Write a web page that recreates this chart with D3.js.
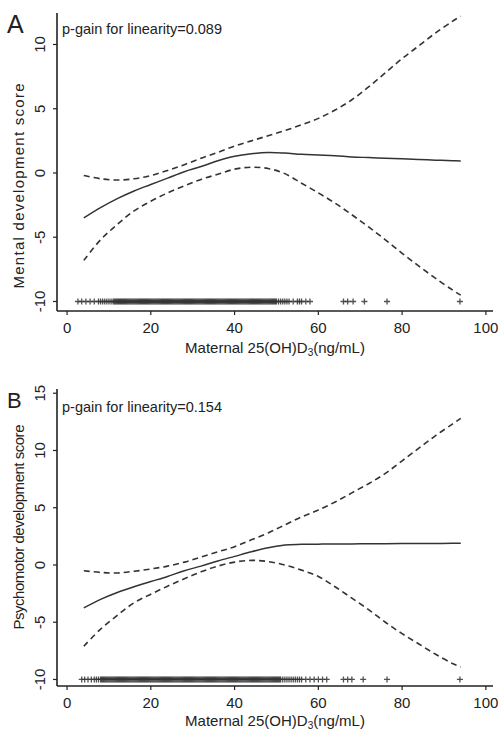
<!DOCTYPE html>
<html lang="en">
<head>
<meta charset="utf-8">
<title>Maternal 25(OH)D3 and development scores</title>
<script src="https://d3js.org/d3.v7.min.js"></script>
<style>
    body { margin: 0; background: #fff; }
    text { font-family: "Liberation Sans", Arial, sans-serif; fill: #222; }
</style>
</head>
<body>
<div id="chart"></div>
<script>
// x grid shared by all fitted curves
const xGrid = [4, 8, 12, 16, 20, 24, 28, 32, 36, 40, 44, 48, 52, 56, 60, 64, 68, 72, 76, 80, 84, 88, 92, 94];

// panel A: mental development score
const fitA   = [-3.5, -2.7, -2.0, -1.4, -0.9, -0.4, 0.1, 0.5, 0.95, 1.3, 1.5, 1.6, 1.55, 1.45, 1.4, 1.35, 1.25, 1.2, 1.15, 1.1, 1.05, 1.0, 0.95, 0.93];
const upperA = [-0.2, -0.45, -0.55, -0.45, -0.2, 0.2, 0.65, 1.15, 1.6, 2.1, 2.5, 2.9, 3.3, 3.75, 4.25, 4.9, 5.7, 6.7, 7.8, 8.9, 9.9, 10.9, 11.8, 12.2];
const lowerA = [-6.8, -5.2, -4.0, -2.95, -2.2, -1.55, -1.0, -0.5, -0.1, 0.3, 0.45, 0.35, -0.05, -0.8, -1.55, -2.35, -3.25, -4.2, -5.2, -6.25, -7.25, -8.2, -9.1, -9.5];
const rugA = [2.6, 3.5, 4.5, 5.5, 6.5, 7.5, 8, 8.5, 9, 9.5, 10, 10.5,
    11, 11.25, 11.5, 11.75, 12, 12.25, 12.5, 12.75, 13, 13.25, 13.5, 13.75, 14, 14.25, 14.5, 14.75,
    15, 15.25, 15.5, 15.75, 16, 16.25, 16.5, 16.75, 17, 17.25, 17.5, 17.75, 18, 18.25, 18.5, 18.75,
    19, 19.25, 19.5, 19.75, 20, 20.25, 20.5, 20.75, 21, 21.25, 21.5, 21.75, 22, 22.25, 22.5, 22.75,
    23, 23.25, 23.5, 23.75, 24, 24.25, 24.5, 24.75, 25, 25.25, 25.5, 25.75, 26, 26.25, 26.5, 26.75,
    27, 27.25, 27.5, 27.75, 28, 28.25, 28.5, 28.75, 29, 29.25, 29.5, 29.75, 30, 30.25, 30.5, 30.75,
    31, 31.25, 31.5, 31.75, 32, 32.25, 32.5, 32.75, 33, 33.25, 33.5, 33.75, 34, 34.25, 34.5, 34.75,
    35, 35.25, 35.5, 35.75, 36, 36.25, 36.5, 36.75, 37, 37.25, 37.5, 37.75, 38, 38.25, 38.5, 38.75,
    39, 39.25, 39.5, 39.75, 40, 40.25, 40.5, 40.75, 41, 41.25, 41.5, 41.75, 42, 42.25, 42.5, 42.75,
    43, 43.25, 43.5, 43.75, 44, 44.25, 44.5, 44.75, 45, 45.25, 45.5, 45.75, 46, 46.25, 46.5, 46.75,
    47, 47.25, 47.5, 47.75, 48, 48.25, 48.5, 48.75, 49, 49.25, 49.5, 49.75, 50,
    50.5, 51, 51.5, 52, 52.5, 53, 54, 55, 55.5, 56, 57, 58, 66, 67, 68.3, 71, 76.4, 93.8];

// panel B: psychomotor development score
const fitB   = [-3.75, -3.0, -2.4, -1.9, -1.45, -1.0, -0.5, -0.1, 0.35, 0.75, 1.15, 1.5, 1.75, 1.8, 1.82, 1.83, 1.84, 1.85, 1.86, 1.87, 1.88, 1.88, 1.89, 1.9];
const upperB = [-0.5, -0.65, -0.7, -0.55, -0.35, -0.1, 0.25, 0.7, 1.15, 1.6, 2.2, 2.8, 3.5, 4.2, 4.8, 5.5, 6.3, 7.1, 8.0, 9.1, 10.2, 11.3, 12.3, 12.8];
const lowerB = [-7.1, -5.6, -4.4, -3.3, -2.55, -1.85, -1.2, -0.6, -0.1, 0.25, 0.4, 0.3, 0.0, -0.45, -1.0, -1.9, -2.9, -3.9, -5.0, -6.0, -6.9, -7.8, -8.6, -8.9];
const rugB = [3.5, 4.2, 5, 5.8, 6.5,
    7, 7.5, 8, 8.25, 8.5, 8.75, 9, 9.25, 9.5, 9.75, 10, 10.25, 10.5, 10.75,
    11, 11.25, 11.5, 11.75, 12, 12.25, 12.5, 12.75, 13, 13.25, 13.5, 13.75, 14, 14.25, 14.5, 14.75,
    15, 15.25, 15.5, 15.75, 16, 16.25, 16.5, 16.75, 17, 17.25, 17.5, 17.75, 18, 18.25, 18.5, 18.75,
    19, 19.25, 19.5, 19.75, 20, 20.25, 20.5, 20.75, 21, 21.25, 21.5, 21.75, 22, 22.25, 22.5, 22.75,
    23, 23.25, 23.5, 23.75, 24, 24.25, 24.5, 24.75, 25, 25.25, 25.5, 25.75, 26, 26.25, 26.5, 26.75,
    27, 27.25, 27.5, 27.75, 28, 28.25, 28.5, 28.75, 29, 29.25, 29.5, 29.75, 30, 30.25, 30.5, 30.75,
    31, 31.25, 31.5, 31.75, 32, 32.25, 32.5, 32.75, 33, 33.25, 33.5, 33.75, 34, 34.25, 34.5, 34.75,
    35, 35.25, 35.5, 35.75, 36, 36.25, 36.5, 36.75, 37, 37.25, 37.5, 37.75, 38, 38.25, 38.5, 38.75,
    39, 39.25, 39.5, 39.75, 40, 40.25, 40.5, 40.75, 41, 41.25, 41.5, 41.75, 42, 42.25, 42.5, 42.75,
    43, 43.25, 43.5, 43.75, 44, 44.25, 44.5, 44.75, 45, 45.25, 45.5, 45.75, 46, 46.25, 46.5, 46.75,
    47, 47.25, 47.5, 47.75, 48, 48.25, 48.5, 48.75, 49, 49.25, 49.5, 49.75, 50, 50.25, 50.5, 50.75,
    51, 51.5, 52, 52.5, 53, 53.5, 54, 54.5, 55, 55.5, 56, 57, 58, 59, 60, 61, 62,
    66, 67, 68, 70.7, 76.4, 93.8];

const xTicks = [0, 20, 40, 60, 80, 100];
const yTicksA = [-10, -5, 0, 5, 10];
const yTicksB = [-10, -5, 0, 5, 10, 15];

const width = 498, height = 732;
const svg = d3.select("#chart").append("svg")
    .attr("width", width)
    .attr("height", height);

let drawPanel = (p) => {
    let x = d3.scaleLinear().domain([-2.4, 101.7]).range([57, 493]);
    let y = d3.scaleLinear().domain(p.yDomain).range([p.bottom, p.top]);
    let g = svg.append("g");

    // axes lines
    g.append("line").attr("x1", 57).attr("x2", 57).attr("y1", p.top).attr("y2", p.bottom)
        .attr("stroke", "#222").attr("stroke-width", 1.6);
    g.append("line").attr("x1", 57).attr("x2", 493).attr("y1", p.bottom).attr("y2", p.bottom)
        .attr("stroke", "#222").attr("stroke-width", 1.6);

    // y ticks + rotated labels
    p.yTicks.forEach(v => {
        g.append("line").attr("x1", 53).attr("x2", 57).attr("y1", y(v)).attr("y2", y(v))
            .attr("stroke", "#222").attr("stroke-width", 1.2);
        g.append("text")
            .attr("transform", `translate(45,${y(v)}) rotate(-90)`)
            .attr("text-anchor", "middle")
            .style("font-size", "15px")
            .text(v);
    });

    // x ticks + labels
    xTicks.forEach(v => {
        g.append("line").attr("x1", x(v)).attr("x2", x(v)).attr("y1", p.bottom).attr("y2", p.bottom + 4)
            .attr("stroke", "#222").attr("stroke-width", 1.2);
        g.append("text")
            .attr("x", x(v)).attr("y", p.bottom + 22)
            .attr("text-anchor", "middle")
            .style("font-size", "15px")
            .text(v);
    });

    // x title with subscript 3
    let xt = g.append("text")
        .attr("x", 275).attr("y", p.xTitleY)
        .attr("text-anchor", "middle")
        .style("font-size", "15px");
    xt.append("tspan").text("Maternal 25(OH)D");
    xt.append("tspan").attr("dy", 3).style("font-size", "10px").text("3");
    xt.append("tspan").attr("dy", -3).text("(ng/mL)");

    // y title
    g.append("text")
        .attr("transform", `translate(24,${p.titleY}) rotate(-90)`)
        .attr("text-anchor", "middle")
        .attr("textLength", p.titleLen)
        .attr("lengthAdjust", "spacing")
        .style("font-size", "15px")
        .text(p.yTitle);

    // panel letter and p-gain note
    g.append("text").attr("x", 7).attr("y", p.letterY)
        .style("font-size", p.letterSize).style("font-weight", "300")
        .text(p.letter);
    g.append("text").attr("x", 62).attr("y", p.noteY)
        .style("font-size", "14.5px")
        .text(p.note);

    // curves
    let line = d3.line()
        .x((d, i) => x(xGrid[i]))
        .y(d => y(d))
        .curve(d3.curveCatmullRom);

    g.append("path").datum(p.upper).attr("d", line)
        .attr("fill", "none").attr("stroke", "#333").attr("stroke-width", 1.6)
        .attr("stroke-dasharray", "6,4");
    g.append("path").datum(p.lower).attr("d", line)
        .attr("fill", "none").attr("stroke", "#333").attr("stroke-width", 1.6)
        .attr("stroke-dasharray", "6,4");
    g.append("path").datum(p.fit).attr("d", line)
        .attr("fill", "none").attr("stroke", "#333").attr("stroke-width", 1.5);

    // rug of observations at y = -10
    let yr = y(-10);
    g.append("g").selectAll("path")
        .data(p.rug)
        .enter()
        .append("path")
            .attr("d", d => `M${x(d) - 3},${yr}h6M${x(d)},${yr - 3}v6`)
            .attr("stroke", "#333")
            .attr("stroke-width", 1.3)
            .attr("opacity", 0.85);
};

drawPanel({
    top: 13, bottom: 311, yDomain: [-10.74, 12.45], yTicks: yTicksA,
    fit: fitA, upper: upperA, lower: lowerA, rug: rugA, xTitleY: 353,
    yTitle: "Mental development score", titleY: 186, titleLen: 205,
    letter: "A", letterY: 33, letterSize: "25px",
    note: "p-gain for linearity=0.089", noteY: 34
});

drawPanel({
    top: 389, bottom: 686, yDomain: [-10.57, 15.37], yTicks: yTicksB,
    fit: fitB, upper: upperB, lower: lowerB, rug: rugB, xTitleY: 726,
    yTitle: "Psychomotor development score", titleY: 527, titleLen: 205,
    letter: "B", letterY: 408, letterSize: "22px",
    note: "p-gain for linearity=0.154", noteY: 412
});
</script>
</body>
</html>
